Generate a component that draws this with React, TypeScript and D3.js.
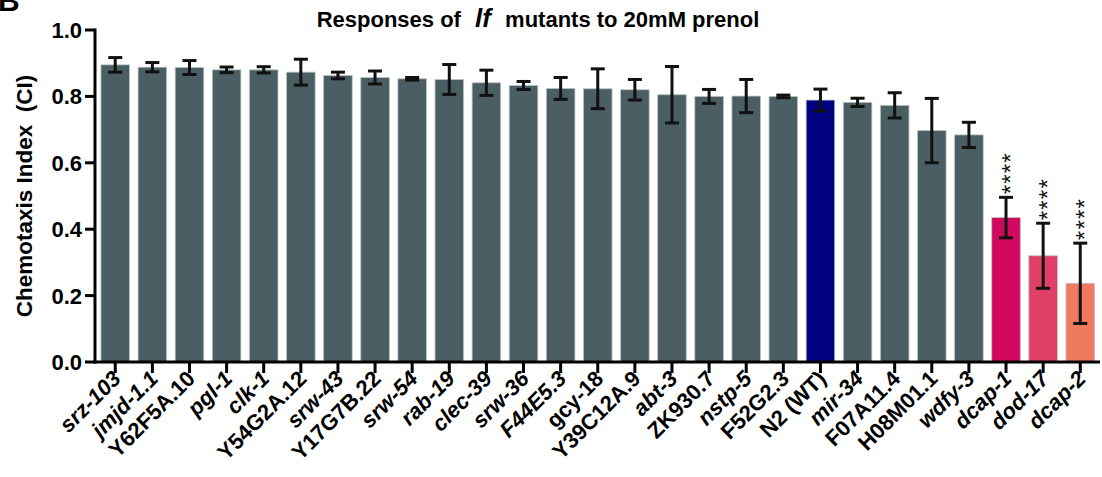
import React from "react";
import * as d3 from "d3";

// Strains tested, ordered by mean chemotaxis index
const strains = [
  "srz-103", "jmjd-1.1", "Y62F5A.10", "pgl-1", "clk-1", "Y54G2A.12", "srw-43",
  "Y17G7B.22", "srw-54", "rab-19", "clec-39", "srw-36", "F44E5.3", "gcy-18",
  "Y39C12A.9", "abt-3", "ZK930.7", "nstp-5", "F52G2.3", "N2 (WT)", "mir-34",
  "F07A11.4", "H08M01.1", "wdfy-3", "dcap-1", "dod-17", "dcap-2",
];
const meanCI = [
  0.895, 0.888, 0.887, 0.880, 0.880, 0.873, 0.863, 0.857, 0.853, 0.851, 0.841,
  0.833, 0.824, 0.823, 0.820, 0.805, 0.800, 0.801, 0.800, 0.789, 0.782, 0.773,
  0.697, 0.684, 0.435, 0.320, 0.237,
];
const semCI = [
  0.022, 0.014, 0.021, 0.0085, 0.0095, 0.039, 0.010, 0.0195, 0.004, 0.045, 0.038,
  0.012, 0.033, 0.060, 0.031, 0.085, 0.021, 0.050, 0.004, 0.033, 0.0125, 0.038,
  0.097, 0.038, 0.061, 0.098, 0.121,
];
// Significance markers versus N2 (WT)
const significance = [
  "", "", "", "", "", "", "", "", "", "", "", "", "", "", "", "", "", "", "", "",
  "", "", "", "", "****", "****", "****",
];
// Gene names set in italics
const italicNames = [
  "srz-103", "jmjd-1.1", "pgl-1", "clk-1", "srw-43", "srw-54", "rab-19", "clec-39",
  "srw-36", "F44E5.3", "abt-3", "nstp-5", "mir-34", "wdfy-3", "dcap-1", "dod-17", "dcap-2",
];
const yTicks = [0, 0.2, 0.4, 0.6, 0.8, 1.0];

const highlighted = ["N2 (WT)", "dcap-1", "dod-17", "dcap-2"];
const highlightColors = ["#000080", "#d1095f", "#e04067", "#f07a5f"];
const defaultColor = "#4b5e63";

export default function App() {
  const width = 1102;
  const height = 477;
  const font = "'Liberation Sans', Arial, sans-serif";

  const x = d3
    .scaleBand<string>()
    .domain(strains)
    .range([96.5, 1099])
    .paddingInner(0.23)
    .paddingOuter(0.12);
  const y = d3.scaleLinear().domain([0, 1]).range([362, 30]);
  const color = d3
    .scaleOrdinal<string, string>()
    .domain(highlighted)
    .range(highlightColors)
    .unknown(defaultColor);
  const colorOf = (s: string) => (highlighted.includes(s) ? color(s) : defaultColor);

  const data = strains.map((s, i) => ({
    name: s,
    mean: meanCI[i],
    sem: semCI[i],
    sig: significance[i],
  }));

  const bw = x.bandwidth();
  const cap = 7;
  const axisX = 95;
  const axisY = y(0);

  return (
    <svg
      width={width}
      height={height}
      style={{ position: "absolute", left: 0, top: 0, background: "#fff" }}
      fontFamily={font}
    >
      {/* panel letter */}
      <text x={-2} y={11} fontSize={30} fontWeight="bold" fill="#000">
        B
      </text>

      {/* title */}
      <text x={538} y={27} textAnchor="middle" fontSize={22} fontWeight="bold" fill="#000">
        <tspan>Responses of </tspan>
        <tspan fontStyle="italic" fontSize={26} dx={8}>
          lf
        </tspan>
        <tspan dx={8}> mutants to 20mM prenol</tspan>
      </text>

      {/* bars */}
      {data.map((d) => (
        <rect
          key={d.name}
          x={x(d.name)}
          y={y(d.mean)}
          width={bw}
          height={axisY - y(d.mean)}
          fill={colorOf(d.name)}
          stroke="#b9c4c7"
          strokeWidth={0.8}
        />
      ))}

      {/* error bars */}
      {data.map((d) => {
        const cx = (x(d.name) as number) + bw / 2;
        const top = y(d.mean + d.sem);
        const bot = y(d.mean - d.sem);
        return (
          <g key={"e" + d.name} stroke="#111" strokeWidth={3}>
            <line x1={cx} x2={cx} y1={top} y2={bot} />
            <line x1={cx - cap} x2={cx + cap} y1={top} y2={top} />
            <line x1={cx - cap} x2={cx + cap} y1={bot} y2={bot} />
          </g>
        );
      })}

      {/* significance stars */}
      {data
        .filter((d) => d.sig)
        .map((d) => {
          const cx = (x(d.name) as number) + bw / 2;
          const top = y(d.mean + d.sem) - 3;
          return (
            <text
              key={"s" + d.name}
              transform={`translate(${cx + 13},${top}) rotate(-90)`}
              fontSize={24}
              letterSpacing={1.2}
              fill="#111"
            >
              {d.sig}
            </text>
          );
        })}

      {/* y axis */}
      <line x1={axisX} x2={axisX} y1={y(1) - 1.5} y2={axisY + 1.5} stroke="#000" strokeWidth={3} />
      {yTicks.map((t) => (
        <g key={t}>
          <line x1={axisX - 10} x2={axisX} y1={y(t)} y2={y(t)} stroke="#000" strokeWidth={3} />
          <text
            x={axisX - 13}
            y={y(t)}
            dy="0.36em"
            textAnchor="end"
            fontSize={22}
            fontWeight="bold"
            fill="#000"
          >
            {d3.format(".1f")(t)}
          </text>
        </g>
      ))}
      <text
        transform={`translate(32,${196}) rotate(-90)`}
        textAnchor="middle"
        fontSize={22.5}
        fontWeight="bold"
        fill="#000"
        xmlSpace="preserve"
      >
        {"Chemotaxis Index  (CI)"}
      </text>

      {/* x axis */}
      <line x1={axisX - 1.5} x2={1100} y1={axisY} y2={axisY} stroke="#000" strokeWidth={3} />
      {strains.map((s) => {
        const cx = (x(s) as number) + bw / 2;
        return (
          <g key={"t" + s}>
            <line x1={cx} x2={cx} y1={axisY} y2={axisY + 11} stroke="#000" strokeWidth={3} />
            <text
              transform={`translate(${cx + 7},${axisY + 18}) rotate(-45)`}
              textAnchor="end"
              fontSize={22}
              fontWeight="bold"
              fontStyle={italicNames.includes(s) ? "italic" : "normal"}
              fill="#000"
            >
              {s}
            </text>
          </g>
        );
      })}
    </svg>
  );
}
